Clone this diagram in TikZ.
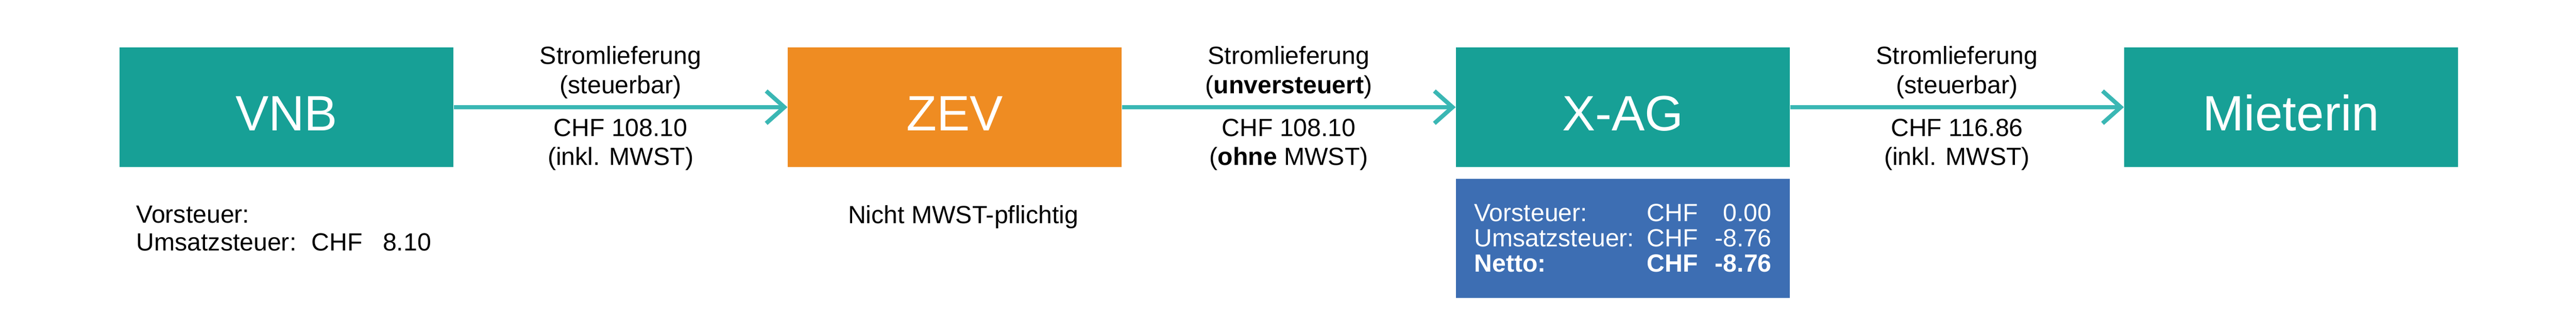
\documentclass[tikz,border=0pt]{standalone}
\usepackage{fontspec}
\setmainfont{Liberation Sans}
\usetikzlibrary{arrows.meta,positioning}

\definecolor{boxteal}{RGB}{23,160,150}
\definecolor{arrowteal}{RGB}{58,183,180}
\definecolor{boxorange}{RGB}{239,140,34}
\definecolor{boxblue}{RGB}{61,110,179}

\newcommand{\BoxW}{6.61}
\newcommand{\BoxH}{2.36}
\newcommand{\taxrow}[4]{\makebox[#1][l]{#2}\makebox[0.9cm][l]{CHF}\makebox[#3][r]{#4}}

\tikzset{
    party/.style={minimum width=\BoxW cm, minimum height=\BoxH cm, inner sep=0pt,
        text=white, font=\fontsize{28}{33}\selectfont, text height=0.92cm, text depth=0pt},
    taxbox/.style={minimum width=\BoxW cm, minimum height=\BoxH cm, inner sep=0pt,
        fill=boxblue, text=white, align=left, font=\fontsize{14}{14.2}\selectfont},
    flow/.style={arrowteal, line width=0.083cm,
        -{Straight Barb[length=0.36cm, width=0.64cm, line cap=butt, line join=miter]}},
    note/.style={text=black, inner sep=0pt, align=center, font=\fontsize{14}{16.4}\selectfont}
}

\begin{document}
\begin{tikzpicture}
    \useasboundingbox (0,0) rectangle (51.02,6.61);

    \node[party, fill=boxteal] (vnb) at (5.675,4.488) {VNB};
    \node[party, fill=boxorange, right=\BoxW cm of vnb] (zev) {ZEV};
    \node[party, fill=boxteal, right=\BoxW cm of zev] (xag) {X-AG};
    \node[party, fill=boxteal, right=\BoxW cm of xag] (mieterin) {Mieterin};

    \draw[flow] (vnb) -- (zev)
        node[midway, above=0.13cm, note] {Stromlieferung\\(steuerbar)}
        node[midway, below=0.19cm, note] {CHF 108.10\\(inkl. MWST)};
    \draw[flow] (zev) -- (xag)
        node[midway, above=0.13cm, note] {Stromlieferung\\(\textbf{unversteuert})}
        node[midway, below=0.19cm, note] {CHF 108.10\\(\textbf{ohne} MWST)};
    \draw[flow] (xag) -- (mieterin)
        node[midway, above=0.13cm, note] {Stromlieferung\\(steuerbar)}
        node[midway, below=0.19cm, note] {CHF 116.86\\(inkl. MWST)};

    \node[note, align=left, font=\fontsize{14}{15.65}\selectfont,
        below right=0.76cm and 0.33cm of vnb.south west] (vnbtax)
        {Vorsteuer:\\\taxrow{3.47cm}{Umsatzsteuer:}{1.47cm}{8.10}};
    \node[note, below=0.75cm of zev, xshift=0.17cm] (zevtax) {Nicht MWST-pflichtig};
    \node[taxbox, below=0.22cm of xag] (xagtax)
        {\taxrow{3.42cm}{Vorsteuer:}{1.57cm}{0.00}\\
         \taxrow{3.42cm}{Umsatzsteuer:}{1.57cm}{-8.76}\\
         \textbf{\taxrow{3.42cm}{Netto:}{1.57cm}{-8.76}}};
\end{tikzpicture}
\end{document}
